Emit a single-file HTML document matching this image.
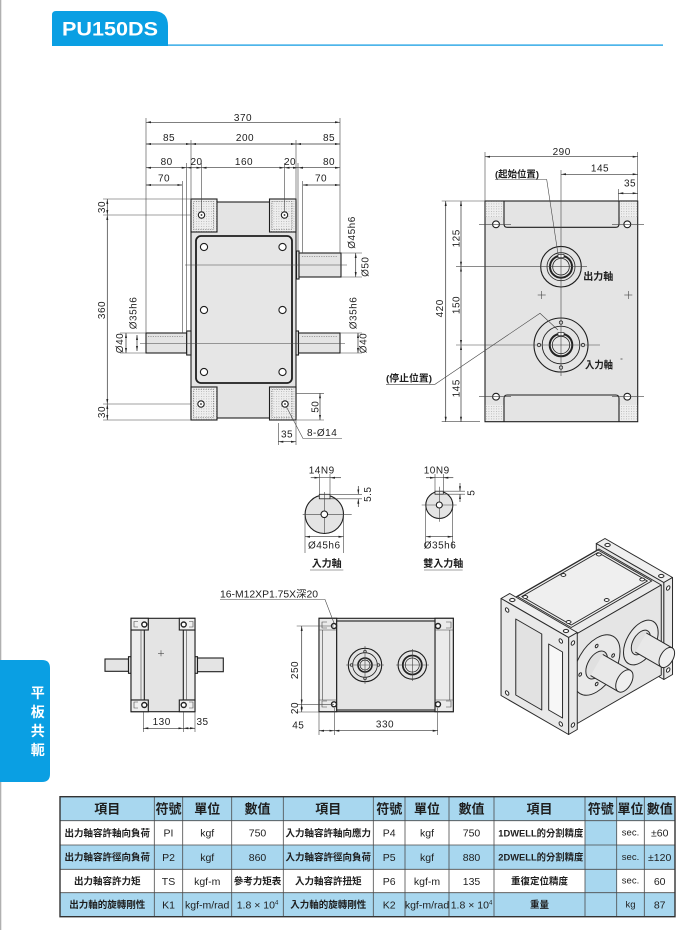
<!DOCTYPE html>
<html><head><meta charset="utf-8"><style>
html,body{margin:0;padding:0;background:#fff;width:700px;height:930px;overflow:hidden}
svg{display:block}
text{font-family:"Liberation Sans","Noto Sans CJK TC",sans-serif;fill:#1e1e1e}
.d{stroke:#333;stroke-width:.7;fill:none}
.e{stroke:#444;stroke-width:.6;fill:none}
.o{stroke:#1e1e1e;stroke-width:1.1}
.t{font-size:10px;letter-spacing:.5px}
.c{font-family:"Noto Sans CJK TC","Liberation Sans",sans-serif;font-weight:bold}
.iso *{vector-effect:non-scaling-stroke}
</style></head><body>
<svg width="700" height="930" viewBox="0 0 700 930" xmlns="http://www.w3.org/2000/svg">
<defs>
<marker id="a" viewBox="0 0 10 4" refX="10" refY="2" markerWidth="5" markerHeight="2.2" orient="auto-start-reverse" markerUnits="userSpaceOnUse"><path d="M0,0L10,2L0,4z" fill="#222"/></marker>
<pattern id="dt" width="2.5" height="2.5" patternUnits="userSpaceOnUse"><rect width="2.5" height="2.5" fill="#eeeeee"/><rect x="1" y="1" width=".8" height=".8" fill="#a8a8a8"/></pattern>
</defs>

<!-- page edge -->
<rect x="0" y="0" width="1.3" height="930" fill="#b0b0b0"/>

<!-- header -->
<path d="M52,46V15Q52,11 56,11H153Q168,11 168,26V46Z" fill="#0a9fe3"/>
<rect x="168" y="44.3" width="495" height="1.7" fill="#4db5ea"/>
<text x="62" y="35.7" font-size="19.5" font-weight="bold" textLength="96" lengthAdjust="spacingAndGlyphs" style="fill:#fff">PU150DS</text>

<!-- left tab -->
<path d="M0,660H42Q50,660 50,668V774Q50,782 42,782H0Z" fill="#0a9fe3"/>
<g class="c" font-size="14" text-anchor="middle" style="fill:#fff">
<text x="37.7" y="698" style="fill:#fff">平</text>
<text x="37.7" y="717" style="fill:#fff">板</text>
<text x="37.7" y="736" style="fill:#fff">共</text>
<text x="37.7" y="755" style="fill:#fff">軛</text>
</g>

<!-- ================= FRONT VIEW ================= -->
<g class="o">
<rect x="191" y="202" width="105" height="216" fill="#e4e4e4"/>
<rect x="191" y="199" width="26" height="33" fill="url(#dt)"/>
<rect x="269.5" y="199" width="26.5" height="33" fill="url(#dt)"/>
<rect x="191" y="387" width="26" height="33" fill="url(#dt)"/>
<rect x="269.5" y="387" width="26.5" height="33" fill="url(#dt)"/>
<rect x="196" y="236" width="96" height="147" rx="5" fill="#e6e6e6" stroke-width="1.8"/>
<!-- shafts -->
<rect x="296.5" y="251" width="2.5" height="28" fill="#e4e4e4"/>
<rect x="299" y="253" width="42" height="24" fill="#e4e4e4"/>
<rect x="146" y="333" width="40.7" height="20" fill="#e4e4e4"/>
<rect x="186.7" y="331" width="4.3" height="24" fill="#e4e4e4"/>
<rect x="296" y="331" width="2.5" height="24" fill="#e4e4e4"/>
<rect x="298.5" y="333" width="41.5" height="20" fill="#e4e4e4"/>
</g>
<g stroke="#555" stroke-width=".6" stroke-dasharray="1.2 1.2" fill="none">
<rect x="193.5" y="201.5" width="20" height="28"/>
<rect x="272" y="201.5" width="20" height="28"/>
<rect x="193.5" y="389.5" width="20" height="28"/>
<rect x="272" y="389.5" width="20" height="28"/>
<line x1="302" y1="256.5" x2="338" y2="256.5"/>
<line x1="148" y1="336.5" x2="183" y2="336.5"/>
<line x1="302" y1="336.5" x2="338" y2="336.5"/>
</g>
<g class="o" fill="#fff">
<circle cx="201.5" cy="215" r="3.2"/><circle cx="284.5" cy="215" r="3.2"/>
<circle cx="201" cy="404" r="3.2"/><circle cx="285" cy="404" r="3.2"/>
<circle cx="204" cy="247" r="3.6"/><circle cx="282.5" cy="247" r="3.6"/>
<circle cx="204" cy="310" r="3.6"/><circle cx="282.5" cy="310" r="3.6"/>
<circle cx="204" cy="372" r="3.6"/><circle cx="282.5" cy="372" r="3.6"/>
</g>
<g fill="#222"><circle cx="201.5" cy="215" r=".9"/><circle cx="284.5" cy="215" r=".9"/><circle cx="201" cy="404" r=".9"/><circle cx="285" cy="404" r=".9"/></g>

<g class="d" marker-start="url(#a)" marker-end="url(#a)">
<line x1="146" y1="122.3" x2="340" y2="122.3"/>
<line x1="146" y1="144" x2="191" y2="144"/>
<line x1="191" y1="144" x2="296" y2="144"/>
<line x1="296" y1="144" x2="340" y2="144"/>
<line x1="146" y1="167.7" x2="186.7" y2="167.7"/>
<line x1="186.7" y1="167.7" x2="201.5" y2="167.7"/>
<line x1="201.5" y1="167.7" x2="284.5" y2="167.7"/>
<line x1="284.5" y1="167.7" x2="298" y2="167.7"/>
<line x1="298" y1="167.7" x2="340" y2="167.7"/>
<line x1="146" y1="185" x2="182.3" y2="185"/>
<line x1="302.7" y1="185" x2="340" y2="185"/>
<line x1="107.3" y1="199" x2="107.3" y2="215"/>
<line x1="107.3" y1="215" x2="107.3" y2="404"/>
<line x1="107.3" y1="404" x2="107.3" y2="420"/>
<line x1="126" y1="333" x2="126" y2="353"/>
<line x1="137" y1="335" x2="137" y2="351"/>
<line x1="355.7" y1="253" x2="355.7" y2="277"/>
<line x1="358" y1="333" x2="358" y2="353"/>
<line x1="320" y1="393.3" x2="320" y2="420"/>
<line x1="278.3" y1="441.7" x2="296" y2="441.7"/>
</g>
<g class="e">
<line x1="146" y1="118" x2="146" y2="333"/>
<line x1="340" y1="118" x2="340" y2="253"/>
<line x1="191" y1="140" x2="191" y2="199"/>
<line x1="296" y1="140" x2="296" y2="199"/>
<line x1="186.7" y1="163" x2="186.7" y2="331"/>
<line x1="182.3" y1="181" x2="182.3" y2="333"/>
<line x1="201.5" y1="163" x2="201.5" y2="212"/>
<line x1="284.5" y1="163" x2="284.5" y2="212"/>
<line x1="298" y1="163" x2="298" y2="251"/>
<line x1="302.7" y1="181" x2="302.7" y2="253"/>
<line x1="103" y1="199" x2="191" y2="199"/>
<line x1="103" y1="215" x2="191" y2="215"/>
<line x1="103" y1="404" x2="191" y2="404"/>
<line x1="103" y1="420" x2="191" y2="420"/>
<line x1="120" y1="333" x2="146" y2="333"/>
<line x1="120" y1="353" x2="146" y2="353"/>
<line x1="341" y1="253" x2="362" y2="253"/>
<line x1="341" y1="277" x2="362" y2="277"/>
<line x1="340" y1="333" x2="362" y2="333"/>
<line x1="340" y1="353" x2="362" y2="353"/>
<line x1="296" y1="393.3" x2="324" y2="393.3"/>
<line x1="296" y1="420" x2="324" y2="420"/>
<line x1="278.3" y1="423" x2="278.3" y2="445"/>
<line x1="296" y1="421" x2="296" y2="445"/>
<line x1="185" y1="265" x2="347" y2="265"/>
<line x1="140" y1="343.5" x2="345" y2="343.5"/>
<polyline points="286,406 303,438.5 342,438.5"/>
</g>
<g class="t" text-anchor="middle">
<text x="243" y="121">370</text>
<text x="169" y="141">85</text>
<text x="245" y="141">200</text>
<text x="329" y="141">85</text>
<text x="166.7" y="165">80</text>
<text x="196.5" y="165">20</text>
<text x="244" y="165">160</text>
<text x="290" y="165">20</text>
<text x="329" y="165">80</text>
<text x="164" y="181.5">70</text>
<text x="321" y="181.5">70</text>
<text x="287" y="437.5">35</text>
<text transform="translate(105,207) rotate(-90)">30</text>
<text transform="translate(105,310) rotate(-90)">360</text>
<text transform="translate(105,412) rotate(-90)">30</text>
<text transform="translate(123,343) rotate(-90)">Ø40</text>
<text transform="translate(136.5,313) rotate(-90)">Ø35h6</text>
<text transform="translate(355,232.5) rotate(-90)">Ø45h6</text>
<text transform="translate(368.5,266.7) rotate(-90)">Ø50</text>
<text transform="translate(356.5,313) rotate(-90)">Ø35h6</text>
<text transform="translate(366.5,343) rotate(-90)">Ø40</text>
<text transform="translate(318.5,406.7) rotate(-90)">50</text>
</g>
<text x="307" y="436" class="t">8-Ø14</text>

<!-- ================= SIDE VIEW ================= -->
<rect x="485" y="201" width="152.7" height="220.7" fill="#e4e4e4" class="o"/>
<g fill="url(#dt)">
<rect x="485.6" y="201.6" width="18" height="15.5"/>
<rect x="619.3" y="201.6" width="17.8" height="15.5"/>
<rect x="485.6" y="405" width="18" height="16"/>
<rect x="619.3" y="405" width="17.8" height="16"/>
</g>
<path class="o" fill="none" d="M504,201V224Q504,227.3 507.3,227.3H615.7Q619,227.3 619,224V201M504,421.7V398.3Q504,395 507.3,395H615.7Q619,395 619,398.3V421.7"/>
<g class="o" fill="#fff">
<circle cx="496" cy="224.3" r="3.4"/><circle cx="627.3" cy="224.3" r="3.4"/>
<circle cx="496" cy="396.7" r="3.4"/><circle cx="627.3" cy="396.7" r="3.4"/>
</g>
<!-- output shaft -->
<circle cx="561" cy="266.7" r="20.3" fill="#e4e4e4" class="o"/>
<circle cx="561" cy="266.7" r="14" fill="none" stroke="#222" stroke-width=".8"/>
<circle cx="561" cy="266.7" r="11" fill="#e8e8e8" stroke="#222" stroke-width="2"/>
<circle cx="561" cy="266.7" r="8.3" fill="none" stroke="#222" stroke-width=".8"/>
<rect x="558" y="254.5" width="6" height="3.2" fill="#fff" stroke="#222" stroke-width=".7"/>
<!-- input shaft -->
<circle cx="561" cy="345" r="27" fill="#e4e4e4" class="o"/>
<circle cx="561" cy="345" r="18.8" fill="none" stroke="#222" stroke-width=".9"/>
<circle cx="561" cy="345" r="11.3" fill="#e8e8e8" stroke="#222" stroke-width="2"/>
<circle cx="561" cy="345" r="8.7" fill="none" stroke="#222" stroke-width=".8"/>
<rect x="558" y="332.5" width="6" height="3.2" fill="#fff" stroke="#222" stroke-width=".7"/>
<g fill="#fff" stroke="#222" stroke-width=".8">
<circle cx="561" cy="322.5" r="1.7"/><circle cx="561" cy="367.5" r="1.7"/><circle cx="539" cy="345" r="1.7"/><circle cx="583" cy="345" r="1.7"/>
</g>
<g class="d" marker-start="url(#a)" marker-end="url(#a)">
<line x1="485" y1="156.7" x2="637.7" y2="156.7"/>
<line x1="561" y1="174.3" x2="637.7" y2="174.3"/>
<line x1="618.3" y1="193.3" x2="637.7" y2="193.3"/>
<line x1="445.7" y1="201" x2="445.7" y2="421.7"/>
<line x1="461" y1="201" x2="461" y2="266.7"/>
<line x1="461" y1="266.7" x2="461" y2="345"/>
<line x1="461" y1="345" x2="461" y2="421.7"/>
</g>
<g class="e">
<line x1="485" y1="152" x2="485" y2="201"/>
<line x1="637.7" y1="152" x2="637.7" y2="201"/>
<line x1="618.3" y1="189" x2="618.3" y2="201"/>
<line x1="561" y1="170" x2="561" y2="376"/>
<line x1="441.7" y1="201" x2="485" y2="201"/>
<line x1="441.7" y1="421.7" x2="480" y2="421.7"/>
<line x1="456" y1="266.7" x2="587" y2="266.7"/>
<line x1="456" y1="345" x2="600" y2="345"/>
<line x1="479" y1="224.3" x2="511" y2="224.3"/><line x1="612" y1="224.3" x2="644" y2="224.3"/>
<line x1="479" y1="396.7" x2="511" y2="396.7"/><line x1="612" y1="396.7" x2="644" y2="396.7"/>
<line x1="537.7" y1="295" x2="545.7" y2="295"/><line x1="541.7" y1="291" x2="541.7" y2="299"/>
<line x1="624.3" y1="295" x2="632.3" y2="295"/><line x1="628.3" y1="291" x2="628.3" y2="299"/>
<polyline points="495,179.5 546.7,179.5 558,254"/>
<polyline points="386,384.3 435,384.3 540,313.3 558,330"/>
<line x1="620.5" y1="359" x2="622.5" y2="359" stroke-width=".8"/>
</g>
<g class="t" text-anchor="middle">
<text x="561.7" y="155">290</text>
<text x="600" y="171.5">145</text>
<text x="630" y="186.7">35</text>
<text transform="translate(442.8,308.3) rotate(-90)">420</text>
<text transform="translate(459.5,238.3) rotate(-90)">125</text>
<text transform="translate(459.5,305) rotate(-90)">150</text>
<text transform="translate(459.5,388.3) rotate(-90)">145</text>
</g>
<g class="c" font-size="9.5">
<text x="495" y="177.7" textLength="44" lengthAdjust="spacingAndGlyphs">(起始位置)</text>
<text x="386" y="381.7" textLength="46" lengthAdjust="spacingAndGlyphs">(停止位置)</text>
<text x="583.3" y="280" font-size="10" textLength="30" lengthAdjust="spacingAndGlyphs">出力軸</text>
<text x="585" y="368.5" font-size="10" textLength="28" lengthAdjust="spacingAndGlyphs">入力軸</text>
</g>

<!-- ================= SHAFT DETAILS ================= -->
<circle cx="324.3" cy="514.3" r="19.2" fill="#e4e4e4" class="o"/>
<rect x="319.3" y="494.3" width="10.7" height="4.5" fill="#f2f2f2" stroke="#222" stroke-width=".8"/>
<circle cx="439.3" cy="505" r="13.5" fill="#e4e4e4" class="o"/>
<rect x="435" y="491.2" width="8.3" height="3" fill="#f2f2f2" stroke="#222" stroke-width=".8"/>
<g class="e">
<line x1="302.7" y1="514.3" x2="351.7" y2="514.3"/><line x1="324.3" y1="492" x2="324.3" y2="533"/>
<line x1="319.3" y1="474" x2="319.3" y2="494"/><line x1="330" y1="474" x2="330" y2="494"/>
<line x1="330" y1="494.3" x2="362" y2="494.3"/><line x1="330" y1="498.8" x2="362" y2="498.8"/>
<line x1="305" y1="515" x2="305" y2="553"/><line x1="343.5" y1="515" x2="343.5" y2="553"/>
<line x1="319.3" y1="477.7" x2="330" y2="477.7"/>
<line x1="421.7" y1="505" x2="456.7" y2="505"/><line x1="439.3" y1="486.7" x2="439.3" y2="521.7"/>
<line x1="435" y1="474" x2="435" y2="491"/><line x1="443.3" y1="474" x2="443.3" y2="491"/>
<line x1="443" y1="491.2" x2="465" y2="491.2"/><line x1="443" y1="494.2" x2="465" y2="494.2"/>
<line x1="425.7" y1="505" x2="425.7" y2="548"/><line x1="452.7" y1="505" x2="452.7" y2="548"/>
<line x1="435" y1="477.7" x2="443.3" y2="477.7"/>
<line x1="310" y1="570" x2="343.3" y2="570"/>
<line x1="424" y1="570" x2="462.7" y2="570"/>
</g>
<g class="o" fill="#fff"><circle cx="324.3" cy="514.3" r="3.3"/><circle cx="439.3" cy="505" r="3"/></g>
<g class="d" marker-end="url(#a)">
<line x1="310.7" y1="477.7" x2="319.3" y2="477.7"/><line x1="341" y1="477.7" x2="330" y2="477.7"/>
<line x1="358.3" y1="486" x2="358.3" y2="494.3"/><line x1="358.3" y1="507" x2="358.3" y2="498.8"/>
<line x1="426" y1="477.7" x2="435" y2="477.7"/><line x1="453.3" y1="477.7" x2="443.3" y2="477.7"/>
<line x1="460" y1="483" x2="460" y2="491.2"/><line x1="460" y1="502" x2="460" y2="494.2"/>
</g>
<g class="d" marker-start="url(#a)" marker-end="url(#a)">
<line x1="305" y1="536.7" x2="343.5" y2="536.7"/>
<line x1="425.7" y1="536.7" x2="452.7" y2="536.7"/>
</g>
<g class="t" text-anchor="middle">
<text x="321.7" y="473.5">14N9</text>
<text x="436.7" y="473.5">10N9</text>
<text transform="translate(370.8,494.2) rotate(-90)">5.5</text>
<text transform="translate(474.5,492.7) rotate(-90)">5</text>
<text x="324.3" y="548.3">Ø45h6</text>
<text x="440" y="548.3">Ø35h6</text>
</g>
<g class="c" font-size="10" text-anchor="middle">
<text x="326.7" y="567">入力軸</text>
<text x="443.3" y="567">雙入力軸</text>
</g>

<!-- ================= BOTTOM LEFT VIEW ================= -->
<g class="o" fill="#e4e4e4">
<rect x="105" y="659" width="23.5" height="12.3"/>
<rect x="128.5" y="656.7" width="2.5" height="16.6"/>
<rect x="195" y="656.7" width="2.5" height="16.6"/>
<rect x="197.5" y="658" width="25.8" height="13.7"/>
<rect x="131" y="618.3" width="64" height="93.4"/>
<rect x="131" y="630" width="13.3" height="70" fill="#ececec"/>
<rect x="183.3" y="630" width="11.7" height="70" fill="#ececec"/>
<rect x="131" y="618.3" width="17.3" height="11.7" fill="#f0f0f0"/>
<rect x="179.3" y="618.3" width="15.7" height="11.7" fill="#f0f0f0"/>
<rect x="131" y="700" width="17.3" height="11.7" fill="#f0f0f0"/>
<rect x="179.3" y="700" width="15.7" height="11.7" fill="#f0f0f0"/>
</g>
<g stroke="#222" stroke-width="1.4" fill="#fff">
<circle cx="144.3" cy="624.5" r="2.5"/><circle cx="183.7" cy="624.5" r="2.5"/>
<circle cx="144.3" cy="705" r="2.5"/><circle cx="183.7" cy="705" r="2.5"/>
</g>
<g class="e">
<line x1="141" y1="630" x2="141" y2="700"/><line x1="186.5" y1="630" x2="186.5" y2="700"/>
<path d="M138,621.5H134V627H138M138,702H134V708H138M189,621.5H193V627H189M189,702H193V708H189"/>
<line x1="158" y1="653.3" x2="164" y2="653.3"/><line x1="161" y1="650.3" x2="161" y2="656.3"/>
<line x1="143.3" y1="712" x2="143.3" y2="732"/><line x1="183.3" y1="712" x2="183.3" y2="732"/><line x1="195" y1="712" x2="195" y2="732"/>
</g>
<g class="d" marker-start="url(#a)" marker-end="url(#a)">
<line x1="143.3" y1="728.3" x2="183.3" y2="728.3"/>
<line x1="183.3" y1="728.3" x2="195" y2="728.3"/>
</g>
<g class="t" text-anchor="middle"><text x="161.7" y="725">130</text><text x="202.5" y="725">35</text></g>

<!-- ================= BOTTOM MIDDLE VIEW ================= -->
<g class="o" fill="#e4e4e4">
<rect x="319" y="618.3" width="134.3" height="93.4"/>
<rect x="319" y="618.3" width="17.7" height="93.4" fill="#ebebeb"/>
<rect x="435" y="618.3" width="18.3" height="93.4" fill="#ebebeb"/>
<rect x="336.7" y="621" width="98.3" height="89"/>
</g>
<g class="e">
<line x1="319" y1="630" x2="336.7" y2="630"/><line x1="319" y1="700" x2="336.7" y2="700"/>
<line x1="435" y1="630" x2="453.3" y2="630"/><line x1="435" y1="700" x2="453.3" y2="700"/>
<line x1="322.5" y1="630" x2="322.5" y2="700"/><line x1="449.8" y1="630" x2="449.8" y2="700"/>
<path d="M327,622H322V628H327M327,701H322V707H327M446,622H451V628H446M446,701H451V707H446"/>
</g>
<g stroke="#222" stroke-width="1.4" fill="#fff">
<circle cx="334" cy="626" r="2.5"/><circle cx="438" cy="626" r="2.5"/>
<circle cx="334" cy="704.3" r="2.5"/><circle cx="438" cy="704.3" r="2.5"/>
</g>
<circle cx="365" cy="665" r="16.7" fill="#e4e4e4" class="o"/>
<circle cx="365" cy="665" r="12.3" fill="none" stroke="#222" stroke-width=".8"/>
<circle cx="365" cy="665" r="7" fill="#e8e8e8" stroke="#222" stroke-width="1.6"/>
<circle cx="365" cy="665" r="5" fill="none" stroke="#222" stroke-width=".7"/>
<g fill="#fff" stroke="#222" stroke-width=".7"><circle cx="365" cy="651.5" r="1.3"/><circle cx="365" cy="678.5" r="1.3"/><circle cx="351.5" cy="665" r="1.3"/><circle cx="378.5" cy="665" r="1.3"/></g>
<circle cx="412.3" cy="665" r="14.2" fill="#e4e4e4" class="o"/>
<circle cx="412.3" cy="665" r="9.5" fill="#e8e8e8" stroke="#222" stroke-width="1.8"/>
<circle cx="412.3" cy="665" r="7" fill="none" stroke="#222" stroke-width=".7"/>
<g class="e">
<line x1="296.7" y1="626" x2="334" y2="626"/><line x1="296.7" y1="704.3" x2="334" y2="704.3"/>
<line x1="296.7" y1="712" x2="319" y2="712"/>
<line x1="319" y1="712" x2="319" y2="735"/><line x1="334.3" y1="708" x2="334.3" y2="735"/><line x1="437.7" y1="708" x2="437.7" y2="735"/>
<line x1="346" y1="665" x2="384" y2="665"/><line x1="365" y1="646" x2="365" y2="684"/>
<line x1="396" y1="665" x2="429" y2="665"/><line x1="412.3" y1="649" x2="412.3" y2="681"/>
<polyline points="220,599.5 325,599.5 334,623"/>
</g>
<g class="d" marker-start="url(#a)" marker-end="url(#a)">
<line x1="301.7" y1="626" x2="301.7" y2="704.3"/>
<line x1="301.7" y1="704.3" x2="301.7" y2="712"/>
<line x1="319" y1="730.7" x2="334.3" y2="730.7"/>
<line x1="334.3" y1="730.7" x2="437.7" y2="730.7"/>
</g>
<g class="t" text-anchor="middle">
<text transform="translate(297.8,670) rotate(-90)">250</text>
<text transform="translate(297.8,708) rotate(-90)">20</text>
<text x="298.3" y="728.3">45</text>
<text x="385" y="727.5">330</text>
</g>
<text x="220" y="597.5" font-size="10" textLength="98" lengthAdjust="spacingAndGlyphs">16-M12XP1.75X深20</text>

<!-- ================= ISO VIEW ================= -->
<g class="iso" stroke="#2a2a2a" stroke-width="1" stroke-linejoin="round">
<!-- right frame -->
<g transform="matrix(-0.866,-0.5,0,1,661.26,585)"><rect x="-3" y="-4" width="78" height="97" fill="#e6e6e6"/></g>
<g transform="matrix(0.866,-0.5,-0.866,-0.5,566,636)"><rect x="110" y="-3" width="10" height="78" fill="#efefef"/>
<circle cx="115" cy="5" r="2.2" fill="#fff"/><circle cx="115" cy="67" r="2.2" fill="#fff"/></g>
<g transform="matrix(0.866,-0.5,0,1,568.6,641.5)"><rect x="110" y="-4" width="10" height="97" fill="#e8e8e8"/>
<circle cx="115" cy="4" r="2" fill="#fff"/><circle cx="115" cy="86" r="2" fill="#fff"/></g>
<!-- housing -->
<g transform="matrix(0.866,-0.5,-0.866,-0.5,566,640)"><rect x="10" y="0" width="100" height="72" fill="#ebebeb"/></g>
<g transform="matrix(0.866,-0.5,0,1,566,640)"><rect x="10" y="0" width="100" height="90" fill="#e5e5e5"/></g>
<!-- cover -->
<g transform="matrix(0.866,-0.5,-0.866,-0.5,566,638.5)">
<rect x="14" y="8" width="93" height="62" fill="#efefef"/>
<rect x="16.5" y="10.5" width="88" height="57" fill="none"/>
<g fill="#fff"><circle cx="18" cy="15" r="2"/><circle cx="62" cy="15" r="2"/><circle cx="103" cy="15" r="2"/>
<circle cx="18" cy="65" r="2"/><circle cx="62" cy="65" r="2"/><circle cx="103" cy="65" r="2"/></g>
</g>
<!-- flanges and shafts -->
<g transform="matrix(0.866,-0.5,0,1,566,640)">
<circle cx="35.4" cy="42.7" r="27" fill="#e9e9e9"/>
<g fill="#fff"><circle cx="35.4" cy="23.7" r="1.6"/><circle cx="35.4" cy="61.7" r="1.6"/><circle cx="16.4" cy="42.7" r="1.6"/><circle cx="54.4" cy="42.7" r="1.6"/></g>
<circle cx="86.4" cy="45.7" r="20" fill="#e9e9e9"/>
<circle cx="35.4" cy="42.7" r="12.5" fill="#e0e0e0"/>
<circle cx="86.4" cy="45.7" r="11" fill="#e0e0e0"/>
<path d="M28.33,49.77L60.33,81.77L74.47,67.63L42.47,35.63Z" fill="#e8e8e8" stroke="none"/>
<path d="M28.33,49.77L60.33,81.77M42.47,35.63L74.47,67.63" fill="none"/>
<circle cx="67.4" cy="74.7" r="10" fill="#efefef"/>
<path d="M80.04,52.06L110.04,82.06L122.76,69.34L92.76,39.34Z" fill="#e8e8e8" stroke="none"/>
<path d="M80.04,52.06L110.04,82.06M92.76,39.34L122.76,69.34" fill="none"/>
<circle cx="116.4" cy="75.7" r="9" fill="#efefef"/>
</g>
<!-- left frame -->
<g transform="matrix(0.866,-0.5,-0.866,-0.5,566,636)"><rect x="0" y="-3" width="10" height="78" fill="#efefef"/>
<circle cx="5" cy="5" r="2.2" fill="#fff"/><circle cx="5" cy="67" r="2.2" fill="#fff"/></g>
<g transform="matrix(0.866,-0.5,0,1,568.6,641.5)"><rect x="0" y="-4" width="10" height="97" fill="#e8e8e8"/>
<circle cx="5" cy="4" r="2" fill="#fff"/><circle cx="5" cy="86" r="2" fill="#fff"/></g>
<g transform="matrix(-0.866,-0.5,0,1,566,640)">
<rect x="-3" y="-4" width="78" height="97" fill="#e9e9e9"/>
<rect x="28" y="8" width="30" height="76" fill="#e2e2e2"/>
<rect x="4" y="14" width="16" height="66" fill="#f7f7f7"/>
<g fill="#fff"><circle cx="6" cy="4" r="2"/><circle cx="68" cy="4" r="2"/><circle cx="6" cy="87" r="2"/><circle cx="68" cy="87" r="2"/></g>
</g>
</g>

<!-- ================= TABLE ================= -->
<rect x="60" y="796.7" width="615" height="24" fill="#a8d7ef"/>
<rect x="60" y="845" width="615" height="24.3" fill="#a8d7ef"/>
<rect x="60" y="892.7" width="615" height="24" fill="#a8d7ef"/>
<rect x="585" y="820.7" width="31.7" height="24.3" fill="#a8d7ef"/>
<rect x="585" y="869.3" width="31.7" height="23.4" fill="#a8d7ef"/>
<g stroke="#4a4a4a" stroke-width=".8">
<line x1="60" y1="820.7" x2="675" y2="820.7"/>
<line x1="60" y1="845" x2="675" y2="845"/>
<line x1="60" y1="869.3" x2="675" y2="869.3"/>
<line x1="60" y1="892.7" x2="675" y2="892.7"/>
<line x1="154.3" y1="796.7" x2="154.3" y2="916.7"/>
<line x1="182.7" y1="796.7" x2="182.7" y2="916.7"/>
<line x1="231.7" y1="796.7" x2="231.7" y2="916.7"/>
<line x1="283.3" y1="796.7" x2="283.3" y2="916.7"/>
<line x1="373.3" y1="796.7" x2="373.3" y2="916.7"/>
<line x1="405" y1="796.7" x2="405" y2="916.7"/>
<line x1="449" y1="796.7" x2="449" y2="916.7"/>
<line x1="494" y1="796.7" x2="494" y2="916.7"/>
<line x1="585" y1="796.7" x2="585" y2="916.7"/>
<line x1="616.7" y1="796.7" x2="616.7" y2="916.7"/>
<line x1="644.3" y1="796.7" x2="644.3" y2="916.7"/>
</g>
<rect x="60" y="796.7" width="615" height="120" fill="none" stroke="#333" stroke-width="1.4"/>
<g class="c" font-size="13" text-anchor="middle">
<text x="107.2" y="813.4">項目</text><text x="168.5" y="813.4">符號</text><text x="207.2" y="813.4">單位</text><text x="257.5" y="813.4">數值</text>
<text x="328.3" y="813.4">項目</text><text x="389.2" y="813.4">符號</text><text x="427" y="813.4">單位</text><text x="471.5" y="813.4">數值</text>
<text x="539.5" y="813.4">項目</text><text x="600.8" y="813.4">符號</text><text x="630.5" y="813.4">單位</text><text x="659.7" y="813.4">數值</text>
</g>
<g class="c" font-size="9.5" text-anchor="middle">
<text x="107.2" y="836.3">出力軸容許軸向負荷</text>
<text x="107.2" y="860.5">出力軸容許徑向負荷</text>
<text x="107.2" y="884.4">出力軸容許力矩</text>
<text x="107.2" y="908">出力軸的旋轉剛性</text>
<text x="328.3" y="836.3">入力軸容許軸向應力</text>
<text x="328.3" y="860.5">入力軸容許徑向負荷</text>
<text x="328.3" y="884.4">入力軸容許扭矩</text>
<text x="328.3" y="908">入力軸的旋轉剛性</text>
<text x="257.5" y="884.4">參考力矩表</text>
<text x="540.8" y="836.3" textLength="85" lengthAdjust="spacingAndGlyphs">1DWELL的分割精度</text>
<text x="540.8" y="860.5" textLength="85" lengthAdjust="spacingAndGlyphs">2DWELL的分割精度</text>
<text x="539.5" y="884.4">重復定位精度</text>
<text x="539.5" y="908">重量</text>
</g>
<g font-size="10.5" text-anchor="middle">
<text x="168.5" y="836.6">PI</text><text x="168.5" y="860.9">P2</text><text x="168.5" y="884.8">TS</text><text x="168.5" y="908.5">K1</text>
<text x="207.2" y="836.6">kgf</text><text x="207.2" y="860.9">kgf</text><text x="207.2" y="884.8">kgf-m</text><text x="207.2" y="908.5">kgf-m/rad</text>
<text x="257.5" y="836.6">750</text><text x="257.5" y="860.9">860</text><text x="257.5" y="908.5">1.8 × 10<tspan font-size="6" dy="-4">4</tspan></text>
<text x="389.2" y="836.6">P4</text><text x="389.2" y="860.9">P5</text><text x="389.2" y="884.8">P6</text><text x="389.2" y="908.5">K2</text>
<text x="427" y="836.6">kgf</text><text x="427" y="860.9">kgf</text><text x="427" y="884.8">kgf-m</text><text x="427" y="908.5">kgf-m/rad</text>
<text x="471.5" y="836.6">750</text><text x="471.5" y="860.9">880</text><text x="471.5" y="884.8">135</text><text x="471.5" y="908.5">1.8 × 10<tspan font-size="6" dy="-4">4</tspan></text>
<text x="630.5" y="835.5" font-size="9.5">sec.</text><text x="630.5" y="859.8" font-size="9.5">sec.</text><text x="630.5" y="883.7" font-size="9.5">sec.</text><text x="630.5" y="907.4" font-size="9.5">kg</text>
<text x="659.7" y="836.6">±60</text><text x="659.7" y="860.9">±120</text><text x="659.7" y="884.8">60</text><text x="659.7" y="908.5">87</text>
</g>
</svg>
</body></html>
